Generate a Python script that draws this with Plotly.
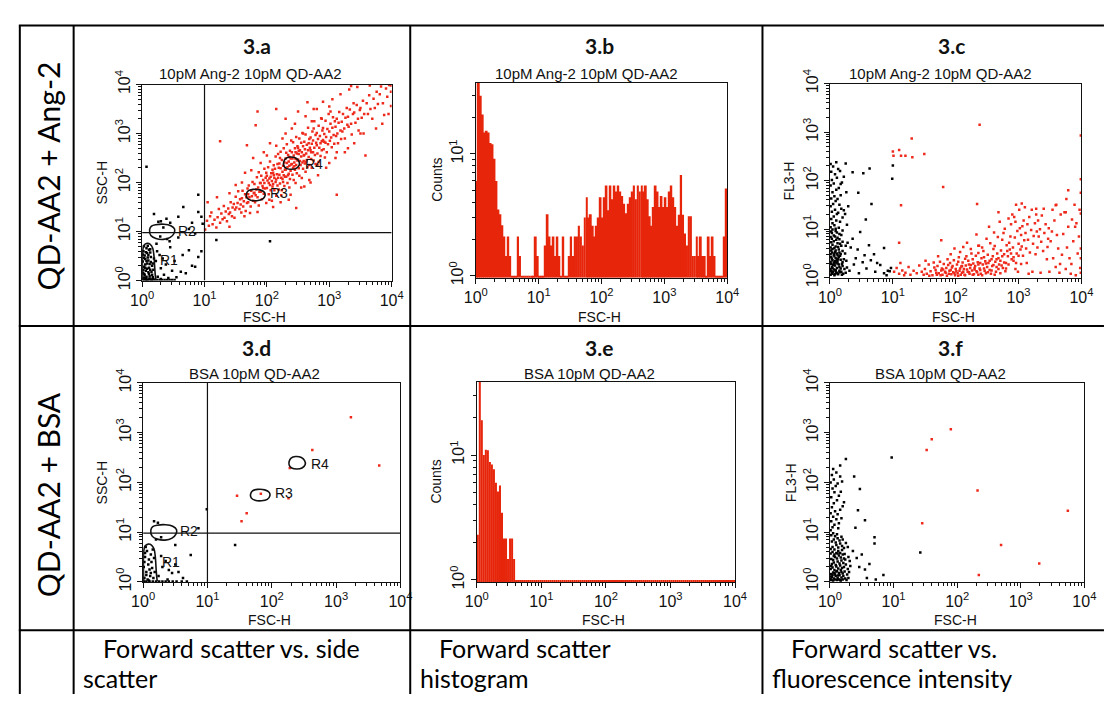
import numpy as np
import plotly.graph_objects as go

W, H = 1114, 702
RED_DOT = "#ee2a1c"
RED_BAR = "#e6250b"
INK = "#111111"

# ---------------------------------------------------------------------------
# Event coordinates, in hundredths of a decade (log10 units x 100)
# ---------------------------------------------------------------------------
A_RED = [
    (101,104),(104,122),(107,112),(109,131),(111,139),(113,115),(116,124),(119,108),
    (121,129),(123,146),(125,118),(127,137),(129,125),(131,152),(132,128),(134,141),(136,121),(138,147),(139,136),
    (141,139),(142,160),(144,131),(145,149),(147,156),(148,128),(149,145),
    (150,171),(151,149),(153,158),(154,182),(156,146),(157,166),(158,155),(159,139),
    (160,168),(161,183),(162,151),(163,162),(165,176),(166,142),(167,170),(168,158),(169,188),(164,131),
    (170,176),(170,160),(171,194),(172,170),(174,151),(175,183),(176,172),(177,201),(178,163),(179,178),(173,138),
    (180,179),(180,197),(181,160),(183,186),(184,211),(185,170),(186,190),(187,153),(188,181),(189,199),(182,174),(187,221),
    (190,199),(190,181),(191,214),(192,166),(193,193),(194,205),(195,177),(196,228),(197,188),(198,210),(199,158),
    (194,189),(196,199),(199,220),
    (200,214),(200,189),(201,204),(202,231),(203,176),(204,208),(205,195),(205,243),(206,184),(207,219),(208,203),
    (208,163),(209,226),(203,199),(206,212),(209,192),
    (210,220),(210,197),(211,235),(212,184),(212,209),(213,228),(214,201),(214,253),(215,173),(216,217),(217,194),
    (217,238),(218,210),(219,186),(219,230),(211,215),(215,206),(218,258),
    (220,216),(220,239),(221,198),(222,229),(222,263),(223,210),(224,184),(224,246),(225,222),(226,201),(226,234),
    (227,215),(227,270),(228,193),(228,241),(229,226),(221,250),(223,174),(225,207),(229,212),
    (230,226),(230,249),(231,212),(232,240),(232,278),(233,199),(233,231),(234,256),(235,218),(235,243),(236,190),
    (236,234),(237,265),(237,207),(238,249),(238,224),(239,286),(239,237),(231,261),(234,215),(236,252),
    (240,238),(240,262),(241,216),(241,249),(242,230),(242,282),(243,205),(243,255),(244,241),(245,226),(245,270),
    (246,248),(246,199),(247,236),(247,293),(248,259),(248,219),(249,245),(249,274),(244,233),(246,262),
    (250,247),(250,271),(251,229),(251,258),(252,290),(252,214),(253,244),(253,266),(254,236),(255,281),(255,253),
    (256,209),(256,262),(257,241),(257,301),(258,274),(258,228),(259,255),(259,244),(251,265),
    (260,256),(260,283),(261,239),(261,268),(262,222),(262,298),(263,259),(264,246),(264,277),(265,231),(266,266),
    (266,312),(267,252),(268,289),(268,236),(269,271),(263,242),(267,280),
    (270,266),(270,292),(271,248),(272,279),(272,230),(273,304),(274,262),(274,286),(275,245),(276,271),(276,325),
    (277,256),(278,297),(278,238),(279,281),(271,262),(275,310),
    (280,276),(280,301),(281,259),(282,289),(283,242),(283,316),(284,271),(285,295),(286,254),(286,280),(287,331),
    (288,266),(289,306),(281,236),(288,284),
    (290,287),(290,311),(291,268),(292,299),(293,251),(294,281),(294,326),(295,293),(296,262),(297,309),(298,278),
    (299,340),(292,283),
    (300,304),(301,285),(302,320),(303,292),(304,272),(305,312),(306,333),(307,297),(308,279),(309,325),(302,345),
    (310,314),(311,295),(312,330),(313,300),(314,280),(315,322),(316,344),(318,306),(319,289),(312,262),
    (320,324),(321,304),(322,340),(324,310),(325,290),(326,332),(328,352),(329,318),
    (330,334),(331,314),(333,349),(335,320),(336,298),(338,340),(339,362),
    (340,343),(342,322),(344,358),(346,330),(347,306),(349,348),
    (350,352),(352,332),(354,367),(356,340),(358,255),
    (360,362),(362,340),(364,378),(366,350),(369,330),
    (371,371),(373,352),(376,385),(378,360),(381,380),(383,396),(386,362),(388,338),
    (391,392),(393,375),(396,399),(399,385),(399,356),(399,398),
    (125,284),(168,276),(185,345),(215,350),(182,317),(247,148),(204,165),(312,175),(265,364),(335,397),
    (230,330),(250,345),(105,160),(120,170),(140,178),(160,200),(270,200),(300,240),(330,270),(350,300),
    (280,350),(240,310),(190,240),(175,225),
    (195,262),(205,280),(210,150),(222,160),(230,300),(238,175),(245,320),(255,190),(262,335),(268,205),
    (275,350),(282,215),(290,365),(295,230),(305,370),(310,250),(318,380),(325,262),(332,390),(340,280),
    (345,395),(355,300),(365,398),(375,310),(385,320),(395,340),(178,250),(185,140),(165,220),(150,195),
    (140,110),(200,255),(215,275),(225,290),(235,165),(258,300),(272,325),(288,330),(300,355),(260,192),
]

A_BLACK = [
    (2,5),(4,12),(6,20),(3,28),(8,35),(5,44),(10,52),(2,60),(7,66),(12,9),(15,18),(11,26),(14,38),(9,47),
    (16,30),(13,57),(3,14),(6,3),(9,2),(12,4),(17,7),(1,39),(4,51),(8,24),(11,14),(18,22),(5,33),(10,41),
    (14,48),(2,22),(7,8),(16,12),(19,45),(13,64),(6,58),(3,70),(9,71),(12,34),(4,6),(15,2),(1,16),(5,26),
    (8,56),(11,63),(3,46),(7,40),(10,17),(13,22),(17,35),(1,53),
    (1,1),(4,1),(8,1),(12,1),(16,1),(20,1),(24,1),(28,1),(32,1),(36,1),(40,1),(44,1),(48,1),(52,1),
    (30,3),(18,3),(6,2),
    (25,8),(30,25),(22,40),(35,12),(42,5),(28,52),(38,33),(48,20),(55,7),(62,18),(24,60),(33,45),(45,68),
    (70,15),(52,40),(80,30),(90,48),(95,60),(65,52),(75,62),(85,28),(23,75),(29,90),(40,85),(58,88),
    (26,120),(34,108),(44,80),
    (90,175),(66,150),(90,140),(58,130),(19,136),(39,126),(95,130),(97,116),(7,232),(30,121),(45,118),
    (80,118),(85,96),(75,105),
    (119,83),(205,80),
]

C_BLACK = [
    (1,6),(4,8),(7,5),(10,9),(13,7),(16,11),(19,6),(2,13),(5,12),(9,14),(12,10),(15,14),(3,9),(8,7),(18,12),(21,8),(25,10),
    (1,18),(3,22),(6,17),(8,25),(11,20),(14,27),(17,19),(20,24),(2,28),(5,26),(9,16),(12,29),(15,22),(19,28),(23,18),(27,21),(4,20),(7,29),
    (1,33),(4,36),(6,31),(9,40),(12,34),(14,43),(17,37),(20,32),(2,42),(7,44),(10,31),(13,39),(16,45),(22,38),(26,35),(3,39),(8,34),(11,37),
    (1,48),(3,52),(6,47),(9,56),(11,50),(14,58),(17,49),(20,55),(4,59),(8,53),(12,46),(15,52),(24,50),(2,56),(7,50),
    (1,62),(4,68),(6,75),(9,64),(12,71),(15,79),(18,66),(2,73),(7,61),(10,78),(13,63),(20,74),(3,80),(16,70),(25,66),(28,72),
    (1,84),(3,92),(6,87),(9,96),(12,82),(15,90),(4,99),(8,85),(11,93),(18,88),(2,95),(20,97),
    (1,104),(4,112),(7,108),(10,118),(14,103),(2,121),(6,126),(11,131),(16,115),(20,124),(27,109),(3,136),(8,140),
    (13,134),(18,142),(1,147),(5,152),(9,158),(15,150),(22,139),(29,147),(2,163),(7,168),(12,162),(17,170),(4,176),
    (10,181),(14,185),(1,190),(6,194),(19,196),(3,201),(11,206),(8,213),(2,218),(13,224),(5,229),(16,220),(1,234),
    (10,238),(22,208),(26,176),(24,131),(9,101),(17,193),
    (31,14),(38,27),(46,9),(52,32),(58,19),(65,36),(72,12),(80,26),(86,9),(92,14),(97,20),(55,46),(62,67),(70,48),
    (44,58),(36,80),(48,94),(57,120),(66,152),(86,61),(95,13),(41,40),(33,62),(75,30),(90,5),
    (25,235),(36,217),(53,215),(63,225),(45,175),(100,231),(99,204),
]

C_RED = [
    (102,12),(106,20),(110,8),(115,15),(120,10),(125,22),(128,6),(133,14),(138,9),(142,25),(146,12),(149,6),(112,30),(118,5),
    (100,260),(110,263),(101,251),(113,251),(120,251),(130,287),(131,248),(150,255),(238,315),(180,187),(234,152),
    (113,149),(110,72),(177,77),(236,66),(268,135),(305,153),(328,142),(375,135),(379,180),(359,149),(390,105),(399,132),
    (151,18),(154,8),(157,27),(160,13),(163,5),(166,21),(169,10),(152,35),(158,4),(165,31),(168,16),
    (171,24),(173,9),(175,33),(177,15),(179,6),(181,28),(183,12),(185,20),(187,38),(189,8),(172,44),(176,5),(180,17),(184,10),(188,26),
    (190,14),(191,30),(193,7),(194,21),(196,11),(197,36),(199,5),(200,18),(202,27),(203,9),(205,42),(206,14),(208,6),(209,23),
    (192,48),(198,60),(204,33),(207,53),
    (210,10),(211,31),(213,18),(214,6),(216,25),(217,44),(219,12),(220,35),(222,8),(223,20),(225,50),(226,15),(228,29),(229,7),
    (212,63),(215,39),(218,72),(221,27),(224,59),(227,38),(230,17),
    (231,24),(232,45),(234,11),(235,32),(237,66),(238,19),(240,8),(241,40),(243,27),(244,55),(246,14),(247,34),(249,80),(250,22),
    (233,89),(236,51),(239,30),(242,62),(245,42),(248,9),(236,6),
    (251,47),(252,30),(254,16),(255,71),(257,38),(258,24),(260,59),(261,93),(263,33),(264,12),(266,50),(267,84),(269,27),
    (253,105),(256,8),(259,44),(262,65),(265,22),(268,40),(270,115),
    (271,35),(272,56),(274,78),(275,20),(277,48),(278,101),(280,30),(281,67),(283,44),(284,122),(286,58),(287,85),(289,38),
    (273,25),(276,92),(279,13),(282,55),(285,72),(288,110),(290,130),
    (291,62),(292,42),(294,83),(295,115),(297,50),(298,96),(300,70),(301,140),(303,58),(304,88),(306,106),(307,45),(309,77),
    (293,125),(296,30),(299,12),(302,102),(305,64),(308,118),(310,145),(296,150),
    (311,92),(312,60),(314,110),(315,78),(317,125),(318,52),(320,98),(321,140),(323,70),(324,86),(326,112),(327,48),(329,95),
    (313,30),(316,8),(322,12),(328,130),(330,62),
    (331,118),(332,85),(334,100),(336,74),(337,128),(339,55),(341,92),(343,110),(345,38),(347,80),(349,12),(335,10),(340,142),
    (346,63),(348,102),
    (351,75),(353,95),(355,40),(357,118),(359,22),(361,88),(363,60),(365,10),(367,130),(369,47),(354,140),(360,150),(366,28),
    (371,90),(373,135),(375,18),(377,62),(379,105),(381,40),(383,8),(385,120),(387,75),(389,150),(376,162),(384,28),
    (392,112),(394,50),(396,85),(398,20),(399,60),(399,175),(399,203),(399,293),(399,40),(399,10),(391,5),(397,140),
    (186,4),(192,16),(195,24),(198,9),(201,13),(204,4),(207,19),(210,24),(212,12),(215,5),(218,17),(221,11),(224,26),
    (227,6),(230,20),(233,13),(236,27),(239,16),(242,5),(245,19),(248,29),(251,11),(254,35),(257,15),(260,26),(262,6),
    (265,38),(268,18),(271,9),(274,44),(277,31),(280,19),(284,27),(288,50),(292,35),(295,18),(300,45),(304,28),(170,6),(178,19),
]

D_BLACK = [
    (2,8),(5,20),(8,35),(3,50),(11,12),(14,28),(6,62),(9,45),(16,8),(12,55),(1,30),(4,70),(18,20),(7,5),(13,40),
    (10,25),(17,48),(2,40),(15,65),(5,14),(3,58),(9,3),(12,18),
    (24,12),(30,30),(28,52),(45,18),(50,35),(62,8),(38,5),(55,20),(74,54),(50,74),(28,90),(17,122),(23,119),
    (86,108),(99,146),(143,74),(40,24),(35,42),(20,85),
    (1,1),(5,1),(10,1),(15,1),(20,1),(25,1),(30,1),(35,1),(40,1),(46,1),(52,1),(60,1),(68,1),
]
D_RED = [(146,173),(161,138),(153,122),(183,177),(226,168),(228,229),(263,265),(323,331),(367,234)]

F_BLACK = [
    (1,6),(3,10),(6,7),(9,12),(12,8),(15,14),(18,9),(21,12),(24,7),(2,16),(5,19),(8,15),(11,22),(14,18),(17,24),
    (20,17),(23,21),(1,26),(4,29),(7,24),(10,31),(13,27),(16,33),(19,28),(22,30),(3,36),(6,39),(9,34),(12,41),
    (15,37),(18,43),(21,38),(25,35),(2,46),(5,44),(8,50),(11,47),(14,53),(17,49),(20,55),(24,45),(1,57),(4,60),
    (7,55),(10,58),(13,62),(16,58),(19,64),(23,56),(2,4),(5,3),(8,5),(11,4),(14,5),(17,3),(20,5),(26,4),(29,8),
    (27,15),(28,26),(30,20),(32,32),(31,42),(29,50),(1,11),(4,14),(7,18),(10,21),(13,13),(16,4),(2,32),(6,52),
    (12,57),(18,20),(22,47),
    (1,66),(4,70),(7,65),(10,74),(13,69),(16,77),(19,72),(22,68),(3,81),(6,85),(9,79),(12,88),(15,83),(18,91),
    (2,94),(5,98),(8,92),(11,96),(20,85),(25,78),(28,70),
    (1,104),(4,110),(7,115),(2,122),(10,126),(13,108),(5,131),(1,138),(8,142),(12,136),(3,150),(16,145),(6,158),
    (11,164),(2,170),(14,173),(7,180),(4,188),(17,181),(9,193),(1,200),(12,198),(6,206),(3,215),(16,212),(10,220),
    (5,227),(19,202),(20,152),(14,118),(18,128),(22,160),
    (25,247),(16,234),(38,212),(47,187),(44,144),(55,124),(40,109),(70,90),(70,77),(97,250),(142,59),(84,14),
    (55,25),(62,36),(46,30),(42,48),(50,55),(36,62),(58,8),(72,5),
]
F_RED = [(190,307),(160,287),(152,265),(232,184),(145,118),(269,74),(329,37),(374,143),(234,14)]

# FSC-H histograms: counts per channel, 128 channels spanning 10^0..10^4
B_COUNTS = [
    6.0, 45, 30, 21, 15, 15.5, 15, 12.3, 12, 9.1,
    6, 3.5, 3.2, 2.6, 2.1, 1.45, 2.1, 1.45, 1, 1,
    1, 2.1, 1.45, 1, 1, 1, 1, 1, 1, 1,
    2.1, 1.45, 1, 1, 1, 1.77, 3.2, 2.1, 1.77, 2.1,
    1.45, 2.1, 1.45, 1, 2.1, 1, 1, 1.45, 2.1, 1.45,
    2.1, 2.1, 2.57, 2.1, 1.77, 3.0, 4.4, 3.0, 3.2, 2.57,
    2.1, 2.57, 3.0, 4.4, 3.0, 4.4, 5.5, 3.45, 5.5, 4.25,
    5.5, 4.9, 5.5, 4.9, 4.5, 3.9, 3.26, 3.9, 4.4, 4.9,
    5.5, 4.25, 5.5, 4.9, 5.5, 4.9, 5.5, 4.25, 3.07, 2.57,
    3.66, 5.5, 4.9, 3.66, 4.5, 3.66, 4.4, 3.66, 4.9, 5.5,
    4.4, 3.66, 2.57, 3.16, 6.7, 3.16, 2.22, 1.77, 3.07, 3.07,
    1.45, 1.45, 2.1, 1.45, 2.1, 1.45, 1.45, 1, 2.1, 1.45,
    2.1, 1.45, 1, 1, 1, 1, 2.1, 5.2,
]
E_COUNTS = [
    2.3, 45, 19, 10, 11, 10.9, 8.8, 8.4, 7.7, 6,
    5.1, 5.7, 3.45, 2.15, 2.15, 1.47, 2.15, 2.15, 1.47, 1,
    1, 1, 1, 1, 1, 1, 1, 1, 1, 1,
    1, 1, 1, 1, 1, 1, 1, 1, 1, 1,
    1, 1, 1, 1, 1, 1, 1, 1, 1, 1,
    1, 1, 1, 1, 1, 1, 1, 1, 1, 1,
    1, 1, 1, 1, 1, 1, 1, 1, 1, 1,
    1, 1, 1, 1, 1, 1, 1, 1, 1, 1,
    1, 1, 1, 1, 1, 1, 1, 1, 1, 1,
    1, 1, 1, 1, 1, 1, 1, 1, 1, 1,
    1, 1, 1, 1, 1, 1, 1, 1, 1, 1,
    1, 1, 1, 1, 1, 1, 1, 1, 1, 1,
    1, 1, 1, 1, 1, 1, 1, 1,
]

# Gate outlines (log10 x 100) and their label anchors
GATE_R1 = [(1,1),(1,62),(3,72),(8,76),(13,74),(17,66),(19,50),(20,30),(21,12),(22,1)]
GATE_R2 = [(12,104),(15,111),(22,114),(35,115),(46,112),(52,105),(51,96),(45,88),(34,84),(22,86),(14,92),(12,104)]
GATE_R3 = [(167,176),(170,183),(178,186),(189,185),(196,180),(197,173),(193,166),(184,163),(174,164),(168,169),(167,176)]
GATE_R4 = [(227,242),(230,249),(237,252),(246,250),(251,244),(252,236),(247,229),(239,227),(231,229),(227,235),(227,242)]
GATE_LABELS = [("R1", 26, 41), ("R2", 55, 102), ("R3", 202, 178), ("R4", 258, 238)]
QUAD_X, QUAD_Y = 100, 98  # quadrant markers on FSC-H / SSC-H

DECADES = [0, 1, 2, 3, 4]
DECADE_TEXT = ["10<sup>%d</sup>" % d for d in DECADES]
COUNT_TICKS = [0, 1]
COUNT_TEXT = ["10<sup>0</sup>", "10<sup>1</sup>"]
N_CHANNELS = 128
HIST_BASE = -0.016
HIST_TOP = 1.585

ROW_LABELS = ["QD-AA2 + Ang-2", "QD-AA2 + BSA"]
CAPTIONS = [("Forward scatter vs. side", "scatter"),
            ("Forward scatter", "histogram"),
            ("Forward scatter vs.", "fluorescence intensity")]


def fx(x):
    return x / W


def fy(y):
    return 1 - y / H


def unpack(pts):
    arr = np.asarray(pts, dtype=float) / 100.0
    return arr[:, 0], arr[:, 1]


MINOR_DEC = [d + np.log10(k) for d in range(4) for k in range(2, 10)]
MINOR_CNT = [np.log10(k) for k in range(2, 10)] + [1 + np.log10(2), 1 + np.log10(3)]

SANS = "Liberation Sans, Arial, sans-serif"
HUMAN = "Lato, Open Sans, sans-serif"
TICKFONT = dict(family=SANS, size=16, color=INK)

# panel: id, title, subtitle, plot box in px (x0, x1, y0, y1), kind, y title, title/sub centres
PANELS = [
    dict(n=1, title="3.a", sub="10pM Ang-2 10pM QD-AA2", box=(133, 388, 73, 276), kind="dot", ytitle="SSC-H",
         tc=(250, 33), sc=(244, 62), ytx=92, xty=314),
    dict(n=2, title="3.b", sub="10pM Ang-2 10pM QD-AA2", box=(474, 731, 71, 273), kind="hist", ytitle="Counts",
         tc=(600, 33), sc=(587, 62), ytx=434, xty=314),
    dict(n=3, title="3.c", sub="10pM Ang-2 10pM QD-AA2", box=(836, 1093, 72, 273), kind="dot", ytitle="FL3-H",
         tc=(960, 33), sc=(949, 62), ytx=794, xty=314),
    dict(n=4, title="3.d", sub="BSA 10pM QD-AA2", box=(134, 397, 382, 588), kind="dot", ytitle="SSC-H",
         tc=(250, 345), sc=(248, 372), ytx=92, xty=627),
    dict(n=5, title="3.e", sub="BSA 10pM QD-AA2", box=(475, 739, 381, 588), kind="hist", ytitle="Counts",
         tc=(600, 345), sc=(590, 372), ytx=433, xty=627),
    dict(n=6, title="3.f", sub="BSA 10pM QD-AA2", box=(836, 1096, 382, 588), kind="dot", ytitle="FL3-H",
         tc=(959, 345), sc=(949, 372), ytx=797, xty=627),
]

DOTS = {
    1: [(A_BLACK, "black"), (A_RED, RED_DOT)],
    3: [(C_BLACK, "black"), (C_RED, RED_DOT)],
    4: [(D_BLACK, "black"), (D_RED, RED_DOT)],
    6: [(F_BLACK, "black"), (F_RED, RED_DOT)],
}
HISTS = {2: B_COUNTS, 5: E_COUNTS}
GATED = {1, 4}

fig = go.Figure()
layout = dict(
    width=W, height=H, autosize=False,
    margin=dict(l=0, r=0, t=0, b=0),
    paper_bgcolor="white", plot_bgcolor="white",
    showlegend=False,
)
annotations = []
shapes = []


def axis_base():
    return dict(showline=True, linecolor=INK, linewidth=1, mirror=True,
                ticks="outside", ticklen=5, tickwidth=1, tickcolor=INK,
                showgrid=False, zeroline=False, fixedrange=True, tickfont=TICKFONT)


for p in PANELS:
    n = p["n"]
    sx = "" if n == 1 else str(n)
    xa, ya = "x" + sx, "y" + sx
    x0, x1, y0, y1 = p["box"]

    xaxis = axis_base()
    xaxis.update(domain=[fx(x0), fx(x1)], anchor=ya, range=[0, 4],
                 tickmode="array", tickvals=DECADES, ticktext=DECADE_TEXT,
                 minor=dict(tickvals=MINOR_DEC, ticks="outside", ticklen=3, tickwidth=1, tickcolor=INK))
    yaxis = axis_base()
    yaxis.update(domain=[fy(y1), fy(y0)], anchor=xa, tickangle=-90)
    if p["kind"] == "hist":
        yaxis.update(range=[HIST_BASE, HIST_TOP], tickmode="array", tickvals=COUNT_TICKS, ticktext=COUNT_TEXT,
                     minor=dict(tickvals=MINOR_CNT, ticks="outside", ticklen=3, tickwidth=1, tickcolor=INK))
    else:
        yaxis.update(range=[0, 4], tickmode="array", tickvals=DECADES, ticktext=DECADE_TEXT,
                     minor=dict(tickvals=MINOR_DEC, ticks="outside", ticklen=3, tickwidth=1, tickcolor=INK))
    layout["xaxis" + sx] = xaxis
    layout["yaxis" + sx] = yaxis

    if p["kind"] == "hist":
        counts = np.asarray(HISTS[n], dtype=float)
        width = 4.0 / N_CHANNELS
        centers = (np.arange(N_CHANNELS) + 0.5) * width
        tops = np.log10(counts)
        fig.add_trace(go.Bar(x=centers, y=tops - HIST_BASE, base=HIST_BASE, width=width,
                             marker=dict(color=RED_BAR, line=dict(width=0)),
                             hoverinfo="skip", xaxis=xa, yaxis=ya))
    else:
        for pts, col in DOTS[n]:
            xs, ys = unpack(pts)
            fig.add_trace(go.Scatter(x=xs, y=ys, mode="markers",
                                     marker=dict(symbol="square", size=2.5, color=col, line=dict(width=0)),
                                     hoverinfo="skip", xaxis=xa, yaxis=ya))

    if n in GATED:
        # quadrant markers
        shapes.append(dict(type="line", xref=xa, yref=ya, x0=QUAD_X / 100, x1=QUAD_X / 100, y0=0, y1=4,
                           line=dict(color=INK, width=1.2)))
        shapes.append(dict(type="line", xref=xa, yref=ya, x0=0, x1=4, y0=QUAD_Y / 100, y1=QUAD_Y / 100,
                           line=dict(color=INK, width=1.2)))
        for gate in (GATE_R1, GATE_R2, GATE_R3, GATE_R4):
            gx, gy = unpack(gate)
            fig.add_trace(go.Scatter(x=gx, y=gy, mode="lines",
                                     line=dict(color=INK, width=1.6, shape="spline", smoothing=1.0),
                                     hoverinfo="skip", xaxis=xa, yaxis=ya))
        for name, lx, ly in GATE_LABELS:
            annotations.append(dict(text=name, x=lx / 100, y=ly / 100, xref=xa, yref=ya,
                                    xanchor="left", yanchor="middle", showarrow=False,
                                    font=dict(family=SANS, size=14, color=INK)))

    # headings and axis titles
    annotations.append(dict(text="<b>%s</b>" % p["title"], x=fx(p["tc"][0]), y=fy(p["tc"][1]),
                            xref="paper", yref="paper", xanchor="center", yanchor="middle", showarrow=False,
                            font=dict(family=HUMAN, size=21, color=INK)))
    annotations.append(dict(text=p["sub"], x=fx(p["sc"][0]), y=fy(p["sc"][1]),
                            xref="paper", yref="paper", xanchor="center", yanchor="middle", showarrow=False,
                            font=dict(family=SANS, size=15, color=INK)))
    annotations.append(dict(text="FSC-H", x=fx((x0 + x1) / 2 - 2), y=fy(p["xty"]),
                            xref="paper", yref="paper", xanchor="center", yanchor="middle", showarrow=False,
                            font=dict(family=SANS, size=14, color=INK)))
    annotations.append(dict(text=p["ytitle"], x=fx(p["ytx"]), y=fy((y0 + y1) / 2),
                            xref="paper", yref="paper", xanchor="center", yanchor="middle", showarrow=False,
                            textangle=-90, font=dict(family=SANS, size=14, color=INK)))

# row labels in the first table column
for label, yc in zip(ROW_LABELS, (168, 498)):
    annotations.append(dict(text=label, x=fx(37), y=fy(yc), xref="paper", yref="paper",
                            xanchor="center", yanchor="middle", showarrow=False, textangle=-90,
                            font=dict(family=HUMAN, size=30, color="black")))

# captions in the bottom table row
for (l1, l2), (cx1, cx2) in zip(CAPTIONS, ((91, 71), (434, 415), (794, 775))):
    annotations.append(dict(text=l1, x=fx(cx1), y=fy(656), xref="paper", yref="paper",
                            xanchor="left", yanchor="middle", showarrow=False,
                            font=dict(family=HUMAN, size=25, color="black")))
    annotations.append(dict(text=l2, x=fx(cx2), y=fy(688), xref="paper", yref="paper",
                            xanchor="left", yanchor="middle", showarrow=False,
                            font=dict(family=HUMAN, size=25, color="black")))

# table rules
for xv in (8, 63, 407, 767):
    shapes.append(dict(type="line", xref="paper", yref="paper", x0=fx(xv), x1=fx(xv), y0=fy(12), y1=fy(H + 2),
                       line=dict(color="black", width=2)))
for yv in (12, 323, 638):
    shapes.append(dict(type="line", xref="paper", yref="paper", x0=fx(7), x1=fx(W + 2), y0=fy(yv), y1=fy(yv),
                       line=dict(color="black", width=2)))

layout["annotations"] = annotations
layout["shapes"] = shapes
fig.update_layout(**layout)
fig.write_html("out.html")
